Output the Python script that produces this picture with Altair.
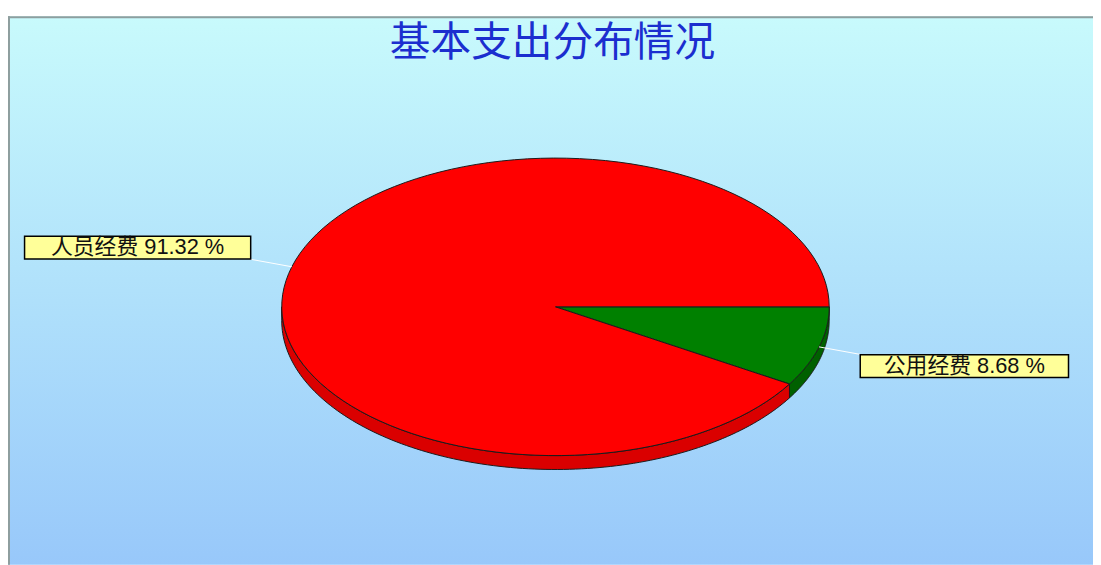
import altair as alt
import pandas as pd

# ---- data ----
categories = ["公用经费", "人员经费"]
values = [8.68, 91.32]
top_colors = ["#008000", "#FF0000"]
side_colors = ["#006000", "#DA0000"]
title_text = "基本支出分布情况"

# ---- layout ----
W, H = 1094, 553
CX, CY, RX, RY, DEPTH = 552, 293, 276, 150, 14
N = 120

source = pd.DataFrame({"cat": categories, "value": values,
                       "order": list(range(len(categories)))})

xs = alt.Scale(domain=[0, W], nice=False, zero=False)
ys = alt.Scale(domain=[0, H], nice=False, zero=False, reverse=True)

base = (
    alt.Chart(source)
    .transform_joinaggregate(total="sum(value)")
    .transform_window(cum="sum(value)", sort=[alt.SortField("order")], frame=[None, 0])
    .transform_calculate(
        a0="(datum.cum - datum.value) / datum.total * 2 * PI",
        a1="datum.cum / datum.total * 2 * PI",
    )
)

def pos(xf, yf):
    return dict(
        x=alt.X(f"{xf}:Q", scale=xs, axis=None),
        y=alt.Y(f"{yf}:Q", scale=ys, axis=None),
    )

# side walls (visible front half)
side = (
    base.transform_calculate(b0="max(datum.a0, 0)", b1="min(datum.a1, PI)")
    .transform_filter("datum.b1 > datum.b0")
    .transform_calculate(k=f"sequence(0, {2 * N + 2})")
    .transform_flatten(["k"])
    .transform_calculate(
        ang=f"datum.k <= {N} ? datum.b0 + (datum.b1 - datum.b0) * datum.k / {N} "
            f": datum.b1 - (datum.b1 - datum.b0) * (datum.k - {N + 1}) / {N}",
    )
    .transform_calculate(
        px=f"{CX} + {RX} * cos(datum.ang)",
        py=f"{CY} + {RY} * sin(datum.ang) + (datum.k > {N} ? {DEPTH} : 0)",
    )
    .mark_line(interpolate="linear-closed", stroke="#1a1a1a", strokeWidth=1, strokeJoin="round")
    .encode(
        **pos("px", "py"),
        order="k:Q",
        detail="cat:N",
        fill=alt.Fill("cat:N", scale=alt.Scale(domain=categories, range=side_colors), legend=None),
    )
)

# top faces
top = (
    base.transform_calculate(k=f"sequence(0, {N + 2})")
    .transform_flatten(["k"])
    .transform_calculate(
        ang=f"datum.a0 + (datum.a1 - datum.a0) * clamp((datum.k - 1) / {N}, 0, 1)",
    )
    .transform_calculate(
        px=f"datum.k == 0 ? {CX} : {CX} + {RX} * cos(datum.ang)",
        py=f"datum.k == 0 ? {CY} : {CY} + {RY} * sin(datum.ang)",
    )
    .mark_line(interpolate="linear-closed", stroke="#1a1a1a", strokeWidth=1, strokeJoin="round")
    .encode(
        **pos("px", "py"),
        order="k:Q",
        detail="cat:N",
        fill=alt.Fill("cat:N", scale=alt.Scale(domain=categories, range=top_colors), legend=None),
    )
)

pie = alt.layer(side, top).resolve_scale(fill="independent")

# labels
lab = (
    base.transform_calculate(mid="(datum.a0 + datum.a1) / 2")
    .transform_calculate(
        sd="cos(datum.mid) < 0 ? -1 : 1",
        ax=f"{CX} + {RX} * cos(datum.mid)",
        ay=f"{CY} + {RY} * sin(datum.mid)",
        label="datum.cat + ' ' + format(datum.value, '.2f') + ' %'",
    )
    .transform_calculate(
        lx="datum.ax + datum.sd * 41.5",
        ly="datum.ay + sin(datum.mid) * 28",
        bw="12 + 18 * length(datum.label)",
        bcy="datum.ay + sin(datum.mid) * 72",
    )
    .transform_calculate(
        bx2="datum.lx + datum.sd * datum.bw",
        by1="datum.bcy - 11.5",
        by2="datum.bcy + 11.5",
        tx="datum.lx + datum.sd * datum.bw / 2",
    )
)

leader = lab.mark_rule(color="white", strokeWidth=1).encode(
    **pos("ax", "ay"), x2="lx:Q", y2="ly:Q"
)
box = lab.mark_rect(fill="#FFFF99", stroke="#000000", strokeWidth=1.5).encode(
    **pos("lx", "by1"), x2="bx2:Q", y2="by2:Q"
)
text = lab.mark_text(
    fontSize=22, font="Liberation Sans, Noto Sans CJK SC", align="center",
    baseline="middle", color="#111111",
).encode(**pos("tx", "bcy"), text="label:N")

# background, border and title
blank = alt.Data(values=[{}])
bg = alt.Chart(blank).mark_rect(
    fill=alt.Gradient(
        gradient="linear",
        stops=[alt.GradientStop(color="#C8FAFC", offset=0),
               alt.GradientStop(color="#98C8FA", offset=1)],
        x1=0, x2=0, y1=0, y2=1,
    )
).encode(x=alt.value(0), x2=alt.value(W), y=alt.value(0), y2=alt.value(H))
border_top = alt.Chart(blank).mark_rule(color="#8E9E9E", strokeWidth=2).encode(
    x=alt.value(0), x2=alt.value(W), y=alt.value(1)
)
border_left = alt.Chart(blank).mark_rule(color="#8E9E9E", strokeWidth=2).encode(
    x=alt.value(1), y=alt.value(0), y2=alt.value(H)
)
title = alt.Chart(blank).mark_text(
    fontSize=41, font="Noto Sans CJK SC", fontWeight="normal", color="#1B2ECF",
    align="center", baseline="middle",
).encode(x=alt.value(549), y=alt.value(28), text=alt.value(title_text))

chart = (
    alt.layer(bg, border_top, border_left, pie, leader, box, text, title)
    .resolve_scale(fill="independent")
    .properties(
        width=W,
        height=H,
        padding={"left": 0, "top": 6, "right": 0, "bottom": 0},
        autosize=alt.AutoSizeParams(type="none"),
    )
    .configure_view(stroke=None)
)

chart.save("out.html", embed_options={"renderer": "svg", "actions": False})
